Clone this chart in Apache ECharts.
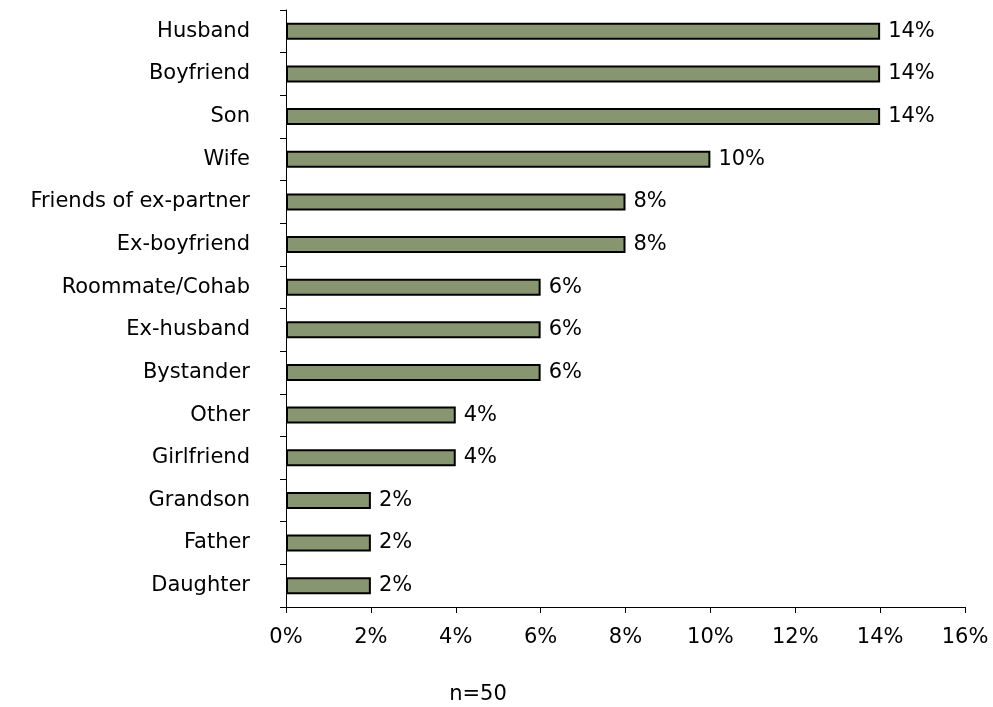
<!DOCTYPE html>
<html>
<head>
<meta charset="utf-8">
<script src="https://cdn.jsdelivr.net/npm/echarts@6/dist/echarts.min.js"></script>
<style>
html, body { margin: 0; padding: 0; background: #fff; }
#chart { width: 993px; height: 707px; }
</style>
</head>
<body>
<div id="chart"></div>
<script>
// categories listed bottom to top (category axis starts at bottom)
var categories = ['Daughter', 'Father', 'Grandson', 'Girlfriend', 'Other', 'Bystander', 'Ex-husband',
	'Roommate/Cohab', 'Ex-boyfriend', 'Friends of ex-partner', 'Wife', 'Son', 'Boyfriend', 'Husband'];
var values = [2, 2, 2, 4, 4, 6, 6, 6, 8, 8, 10, 14, 14, 14];
var xTicks = [0, 2, 4, 6, 8, 10, 12, 14, 16];
var note = 'n=50';

var font = 'DejaVu Sans';
var myChart = echarts.init(document.getElementById('chart'));

var option = {
	animation: false,
	grid: { left: 286, right: 28, top: 10, bottom: 100 },
	graphic: [{
		type: 'text',
		x: 478, y: 695,
		style: { text: note, font: '21px "' + font + '"', fill: '#000', align: 'center', verticalAlign: 'middle' }
	}],
	xAxis: {
		type: 'value',
		min: xTicks[0],
		max: xTicks[xTicks.length - 1],
		interval: 2,
		splitLine: { show: false },
		axisLine: { show: true, lineStyle: { color: '#000', width: 1 } },
		axisTick: { show: true, length: 6, lineStyle: { color: '#000' } },
		axisLabel: { formatter: '{value}%', color: '#000', fontFamily: font, fontSize: 21, margin: 20 }
	},
	yAxis: {
		type: 'category',
		data: categories,
		axisLine: { show: true, lineStyle: { color: '#000', width: 1 } },
		axisTick: { show: true, length: 6, lineStyle: { color: '#000' } },
		axisLabel: { color: '#000', fontFamily: font, fontSize: 21, margin: 36 }
	},
	series: [{
		type: 'bar',
		data: values,
		barWidth: 17,
		itemStyle: { color: '#879570', borderColor: '#000', borderWidth: 2 },
		label: {
			show: true, position: 'right', distance: 8,
			formatter: '{c}%', color: '#000', fontFamily: font, fontSize: 21
		}
	}]
};

myChart.setOption(option);
</script>
</body>
</html>
